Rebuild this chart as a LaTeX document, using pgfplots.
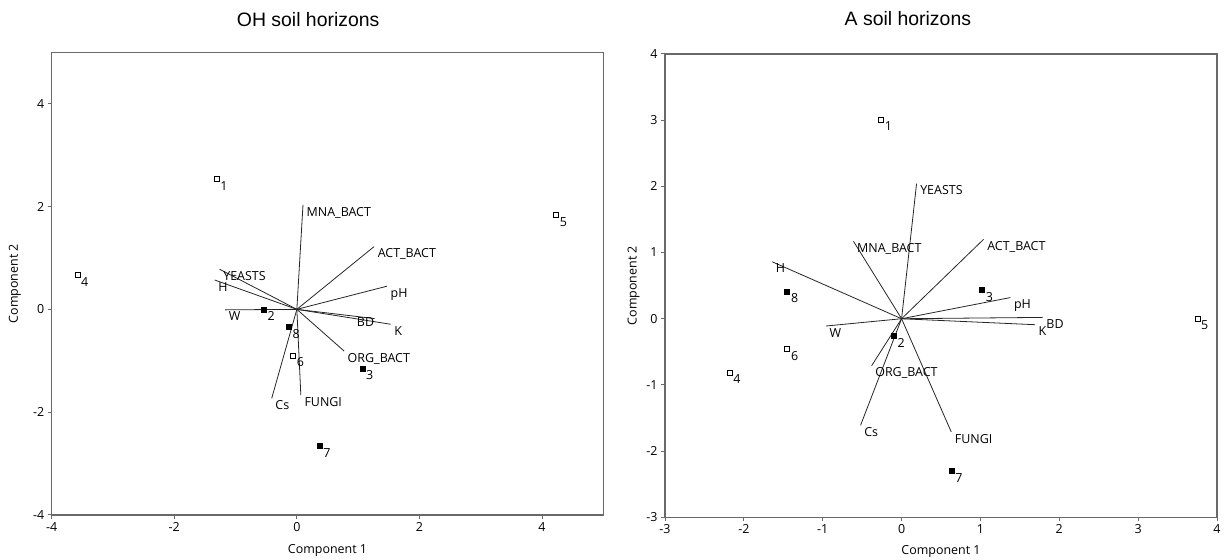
\documentclass[border=0pt]{standalone}
\usepackage{pgfplots}
\usepackage{pgfplotstable}
\pgfplotsset{compat=1.18}
\usepackage{fontspec}
\setmainfont{Open Sans}
\newfontfamily\titlefont{Liberation Sans}
\definecolor{axgray}{RGB}{105,105,105}

% ---- OH soil horizons ----
\pgfplotstableread{
x y lab
-1.31 2.53 1
-3.58 0.67 4
4.23 1.83 5
-0.06 -0.90 6
}\OHopen
\pgfplotstableread{
x y lab
-0.54 0.00 2
1.07 -1.15 3
0.37 -2.66 7
-0.13 -0.34 8
}\OHfull
\pgfplotstableread{
bx by u v lx ly lab
0 0 0.10 2.03 0.10 2.03 MNA\_BACT
0 0 1.26 1.22 1.26 1.22 ACT\_BACT
0 0 1.47 0.45 1.47 0.45 pH
0 0 1.27 -0.18 0.92 -0.12 BD
0 0 1.53 -0.29 1.53 -0.29 K
0 0 0.77 -0.81 0.77 -0.81 ORG\_BACT
0 0 0.065 -1.67 0.065 -1.67 FUNGI
0 0 -0.41 -1.73 -0.41 -1.73 Cs
0 0 -1.17 -0.01 -1.17 -0.01 W
0 0 -1.34 0.57 -1.34 0.57 H
0 0 -1.26 0.78 -1.26 0.78 YEASTS
}\OHvec

% ---- A soil horizons ----
\pgfplotstableread{
x y lab
-0.26 3.01 1
-2.18 -0.81 4
3.75 0.00 5
-1.45 -0.46 6
}\Aopen
\pgfplotstableread{
x y lab
-0.10 -0.26 2
1.02 0.43 3
0.635 -2.30 7
-1.45 0.41 8
}\Afull
\pgfplotstableread{
bx by u v lx ly lab
0 0 0.19 2.04 0.19 2.04 YEASTS
0 0 -0.61 1.17 -0.61 1.17 MNA\_BACT
0 0 1.04 1.20 1.04 1.20 ACT\_BACT
0 0 -1.64 0.86 -1.64 0.86 H
0 0 1.38 0.32 1.38 0.32 pH
0 0 1.79 0.02 1.79 0.02 BD
0 0 1.69 -0.09 1.69 -0.09 K
0 0 -0.96 -0.11 -0.96 -0.11 W
0 0 -0.38 -0.71 -0.38 -0.71 ORG\_BACT
0 0 -0.52 -1.61 -0.52 -1.61 Cs
0 0 0.63 -1.71 0.63 -1.71 FUNGI
}\Avec

\pgfplotsset{
  pca/.style={
    scale only axis,
    axis line style={draw=axgray, line width=1.3bp},
    every tick/.style={draw=axgray, line width=1bp},
    major tick length=4bp,
    tick align=outside,
    xtick pos=left, ytick pos=left,
    ticklabel style={font=\fontsize{12.5}{14}\selectfont},
    /pgf/number format/assume math mode=true,
    xlabel={Component 1}, ylabel={Component 2},
    label style={font=\fontsize{12.5}{14}\selectfont},
    title style={font=\titlefont\fontsize{19.5}{22}\selectfont, anchor=center},
    clip=false,
  },
  vecs/.style={black!85, line width=0.8bp, quiver={u=\thisrow{u}, v=\thisrow{v}}},
  labs/.style={draw=none, nodes near coords, point meta=explicit symbolic,
    every node near coord/.append style={anchor=north west, inner sep=1bp,
      xshift=2.5bp, yshift=-1bp, font=\fontsize{12.5}{14}\selectfont, black}},
  ptopen/.style={only marks, mark=square, mark size=2.5bp, black,
    mark options={line width=0.6bp}, nodes near coords, point meta=explicit symbolic,
    every node near coord/.append style={anchor=north west, inner sep=1bp,
      xshift=2.5bp, yshift=-1bp, font=\fontsize{12.5}{14}\selectfont, black}},
  ptfull/.style={ptopen, mark=square*},
}

\begin{document}
\begin{tikzpicture}[x=1bp,y=1bp]
\useasboundingbox (0,0) rectangle (1227,560);
\begin{axis}[pca,
  at={(51.7bp,45bp)}, anchor=south west,
  width=551.6bp, height=462.7bp,
  xmin=-4, xmax=5, ymin=-4, ymax=5,
  xtick={-4,-2,0,2,4}, ytick={-4,-2,0,2,4},
  title={OH soil horizons},
  title style={at={(axis description cs:0.465,1)}, yshift=27bp},
  xlabel style={at={(axis description cs:0.5,-0.076)}, anchor=center},
  ylabel style={at={(axis description cs:-0.067,0.5)}, anchor=center},
]
\addplot[vecs] table[x=bx, y=by] {\OHvec};
\addplot[labs] table[x=lx, y=ly, meta=lab] {\OHvec};
\addplot[ptopen] table[x=x, y=y, meta=lab] {\OHopen};
\addplot[ptfull] table[x=x, y=y, meta=lab] {\OHfull};
\end{axis}

\begin{axis}[pca,
  at={(665bp,42.7bp)}, anchor=south west,
  width=552bp, height=463.3bp,
  xmin=-3, xmax=4, ymin=-3, ymax=4,
  xtick={-3,...,4}, ytick={-3,...,4},
  title={A soil horizons},
  title style={at={(axis description cs:0.44,1)}, yshift=29bp},
  xlabel style={at={(axis description cs:0.5,-0.073)}, anchor=center},
  ylabel style={at={(axis description cs:-0.057,0.5)}, anchor=center},
]
\addplot[vecs] table[x=bx, y=by] {\Avec};
\addplot[labs] table[x=lx, y=ly, meta=lab] {\Avec};
\addplot[ptopen] table[x=x, y=y, meta=lab] {\Aopen};
\addplot[ptfull] table[x=x, y=y, meta=lab] {\Afull};
\end{axis}
\end{tikzpicture}
\end{document}
